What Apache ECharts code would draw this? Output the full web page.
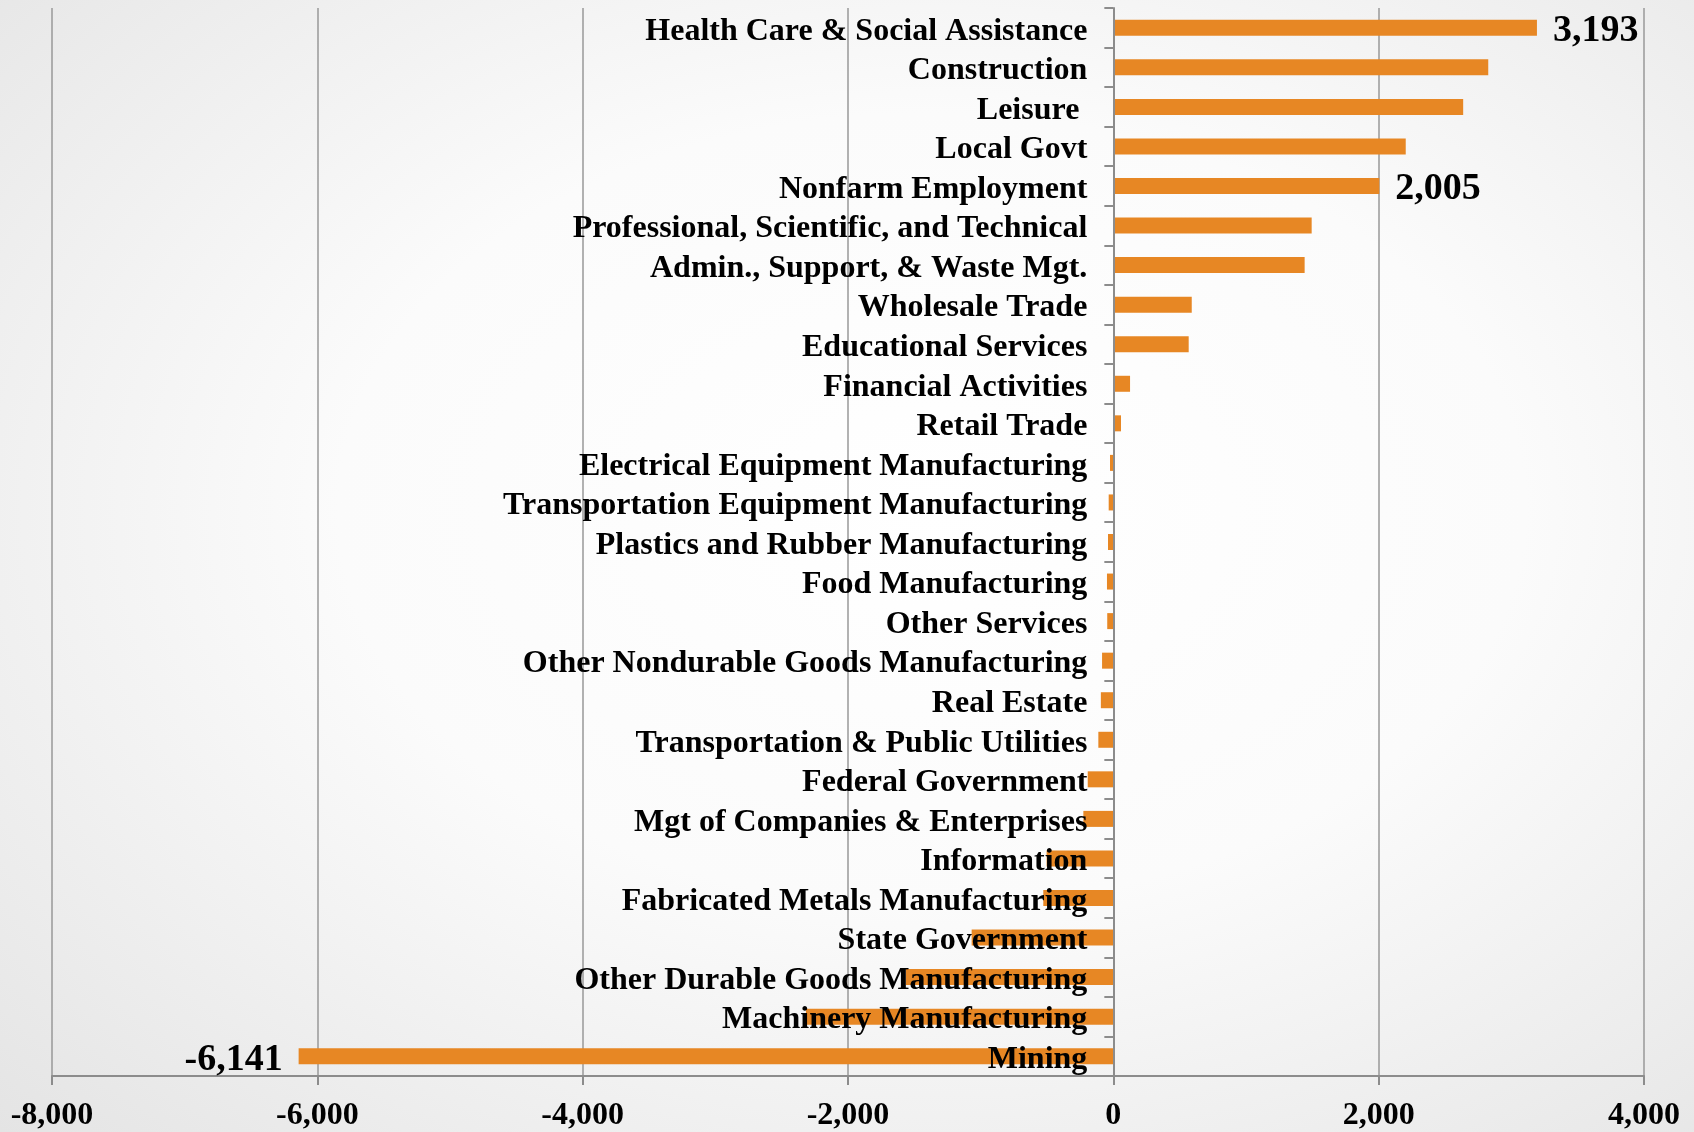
<!DOCTYPE html>
<html>
<head>
<meta charset="utf-8">
<script src="https://cdn.jsdelivr.net/npm/echarts@6/dist/echarts.min.js"></script>
<style>
  html, body { margin: 0; padding: 0; }
  #chart {
    width: 1694px;
    height: 1132px;
    background: radial-gradient(ellipse at 55% 45%, #ffffff 0%, #fbfbfb 45%, #e4e4e4 100%);
  }
</style>
</head>
<body>
<div id="chart"></div>
<script>
// categories, top to bottom
const industries = [
  'Health Care & Social Assistance',
  'Construction',
  'Leisure ',
  'Local Govt',
  'Nonfarm Employment',
  'Professional, Scientific, and Technical',
  'Admin., Support, & Waste Mgt.',
  'Wholesale Trade',
  'Educational Services',
  'Financial Activities',
  'Retail Trade',
  'Electrical Equipment Manufacturing',
  'Transportation Equipment Manufacturing',
  'Plastics and Rubber Manufacturing',
  'Food Manufacturing',
  'Other Services',
  'Other Nondurable Goods Manufacturing',
  'Real Estate',
  'Transportation & Public Utilities',
  'Federal Government',
  'Mgt of Companies & Enterprises',
  'Information',
  'Fabricated Metals Manufacturing',
  'State Government',
  'Other Durable Goods Manufacturing',
  'Machinery Manufacturing',
  'Mining'
]
// job change
const change = [
  3193, 2826, 2637, 2204, 2005, 1495, 1442, 591, 568, 126, 58,
  -25, -35, -40, -48, -46, -85, -94, -113, -193, -226,
  -503, -528, -1068, -1563, -2317, -6141
]
// bars that carry a value label
const labelled = ['Health Care & Social Assistance', 'Nonfarm Employment', 'Mining']

const xTicks = [-8000, -6000, -4000, -2000, 0, 2000, 4000]

const serif = '"Liberation Serif", "Times New Roman", serif'
const fmt = v => (v < 0 ? '-' : '') + Math.abs(v).toLocaleString('en-US')

const W = 1694
const gridLeft = 52
const gridRight = 50
const xMin = xTicks[0]
const xMax = xTicks[xTicks.length - 1]
// move the category axis to the zero line (labels included)
const zeroOffset = (W - gridLeft - gridRight) * (0 - xMin) / (xMax - xMin)

// text style that sits a few px lower than ECharts' default centring
const lowText = size => ({
  fontFamily: serif,
  fontWeight: 'bold',
  fontSize: size,
  color: '#000',
  padding: [7, 0, 0, 0]
})

const barData = change.map((v, i) => {
  const item = {value: v}
  if (labelled.includes(industries[i])) {
    item.label = {
      show: true,
      position: v < 0 ? 'left' : 'right',
      distance: 16,
      formatter: p => '{t|' + fmt(p.value) + '}',
      rich: {t: lowText(38)}
    }
  }
  return item
})

const myChart = echarts.init(document.getElementById('chart'))
myChart.setOption({
  animation: false,
  grid: {left: gridLeft, right: gridRight, top: 8, bottom: 56, containLabel: false, outerBoundsMode: 'none'},
  xAxis: {
    type: 'value',
    min: xMin,
    max: xMax,
    interval: 2000,
    axisLine: {show: true, lineStyle: {color: '#8c8c8c', width: 2}},
    axisTick: {show: true, length: 9, lineStyle: {color: '#8c8c8c', width: 2}},
    splitLine: {show: true, lineStyle: {color: '#999999', width: 1.5}},
    axisLabel: {
      margin: 24,
      fontFamily: serif,
      fontWeight: 'bold',
      fontSize: 32,
      color: '#000',
      formatter: v => fmt(v)
    }
  },
  yAxis: {
    type: 'category',
    inverse: true,
    position: 'left',
    offset: -zeroOffset,
    data: industries,
    z: 10,
    axisLine: {show: true, onZero: false, lineStyle: {color: '#8c8c8c', width: 2}},
    axisTick: {show: true, interval: 0, length: 9, lineStyle: {color: '#8c8c8c', width: 2}},
    splitLine: {show: false},
    axisLabel: {
      interval: 0,
      hideOverlap: false,
      margin: 26,
      formatter: v => '{t|' + v + '}',
      rich: {t: lowText(32)}
    }
  },
  series: [
    {
      type: 'bar',
      data: barData,
      barWidth: 16,
      itemStyle: {color: '#e78724'},
      z: 2
    }
  ]
})
</script>
</body>
</html>
